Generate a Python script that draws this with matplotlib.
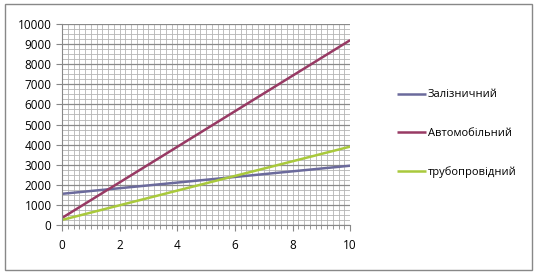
import matplotlib
matplotlib.use("Agg")
import matplotlib.pyplot as plt
from matplotlib.ticker import MultipleLocator
from matplotlib.patches import Rectangle

x = [0, 10]
rail = [1550, 2950]
auto = [350, 9200]
pipe = [250, 3900]
labels = ["Залізничний", "Автомобільний", "трубопровідний"]
colors = ["#6B6A9C", "#983A64", "#A9C93C"]

plt.rcParams['font.family'] = ['Open Sans', 'DejaVu Sans']

fig = plt.figure(figsize=(5.37, 2.74), dpi=100)
fig.patches.append(Rectangle((0.009, 0.015), 0.982, 0.97, transform=fig.transFigure,
                             fill=False, edgecolor="#888888", linewidth=1.0))
ax = fig.add_axes([0.1155, 0.179, 0.5365, 0.733])

lines = []
for ys, c, lab in zip([rail, auto, pipe], colors, labels):
    l, = ax.plot(x, ys, color=c, linewidth=1.8, label=lab, solid_capstyle='butt')
    lines.append(l)

ax.set_xlim(0, 10)
ax.set_ylim(0, 10000)
ax.xaxis.set_major_locator(MultipleLocator(2))
ax.xaxis.set_minor_locator(MultipleLocator(0.2))
ax.yaxis.set_major_locator(MultipleLocator(1000))
ax.yaxis.set_minor_locator(MultipleLocator(250))
ax.grid(which='major', axis='y', color="#8A8A8A", linewidth=0.9)
ax.grid(which='major', axis='x', color="#B4B4B4", linewidth=0.6)
ax.grid(which='minor', color="#B4B4B4", linewidth=0.6)
ax.set_axisbelow(True)
for s in ['top', 'right']:
    ax.spines[s].set_visible(False)
for s in ['left', 'bottom']:
    ax.spines[s].set_color("#888888")
ax.tick_params(axis='both', which='major', labelsize=8.5, color="#888888", length=4, direction='out')
ax.tick_params(axis='x', which='minor', color="#888888", length=3, direction='out')
ax.tick_params(axis='y', which='minor', length=0)
ax.tick_params(axis='x', pad=6)

ax.legend(handles=lines, loc='center left', bbox_to_anchor=(1.146, 0.455), frameon=False,
          fontsize=8, handlelength=2.6, handletextpad=0.2, labelspacing=2.45,
          borderaxespad=0)

fig.savefig("out.png", dpi=100)
